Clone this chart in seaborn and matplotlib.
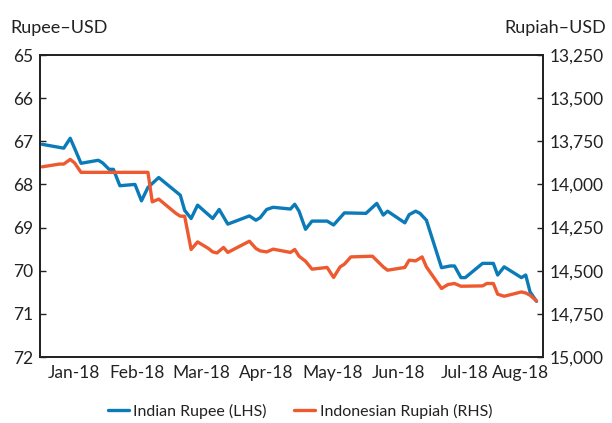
import pandas as pd
import numpy as np
import matplotlib
matplotlib.use("Agg")
import matplotlib.pyplot as plt
import matplotlib.dates as mdates
from matplotlib.ticker import FuncFormatter, FixedLocator
import seaborn as sns

# Indian rupee per USD (left axis, inverted)
rupee_dates = ["2018-01-02", "2018-01-12", "2018-01-15", "2018-01-17", "2018-01-20",
               "2018-01-28", "2018-01-30", "2018-02-02", "2018-02-04", "2018-02-07",
               "2018-02-14", "2018-02-17", "2018-02-20", "2018-02-25", "2018-03-07",
               "2018-03-09", "2018-03-12", "2018-03-15", "2018-03-22", "2018-03-25",
               "2018-03-29", "2018-04-08", "2018-04-11", "2018-04-13", "2018-04-16",
               "2018-04-19", "2018-04-27", "2018-04-29", "2018-05-01", "2018-05-04",
               "2018-05-07", "2018-05-14", "2018-05-17", "2018-05-22", "2018-06-01",
               "2018-06-06", "2018-06-09", "2018-06-11", "2018-06-19", "2018-06-21",
               "2018-06-24", "2018-06-26", "2018-06-29", "2018-07-06", "2018-07-10",
               "2018-07-12", "2018-07-15", "2018-07-17", "2018-07-25", "2018-07-30",
               "2018-08-01", "2018-08-04", "2018-08-12", "2018-08-14", "2018-08-16",
               "2018-08-19"]
rupee_values = [67.07, 67.16, 66.93, 67.16, 67.51,
                67.44, 67.50, 67.65, 67.65, 68.03,
                68.00, 68.38, 68.07, 67.84, 68.25,
                68.60, 68.79, 68.48, 68.79, 68.58,
                68.92, 68.73, 68.83, 68.77, 68.58,
                68.53, 68.57, 68.46, 68.62, 69.04,
                68.85, 68.85, 68.94, 68.66, 68.67,
                68.44, 68.71, 68.62, 68.89, 68.70,
                68.62, 68.67, 68.83, 69.93, 69.89,
                69.89, 70.16, 70.16, 69.83, 69.83,
                70.10, 69.91, 70.16, 70.10, 70.49,
                70.71]

# Indonesian rupiah per USD (right axis, inverted)
rupiah_dates = ["2018-01-02", "2018-01-10", "2018-01-12", "2018-01-15", "2018-01-17",
                "2018-01-20", "2018-02-20", "2018-02-22", "2018-02-25", "2018-03-05",
                "2018-03-07", "2018-03-09", "2018-03-12", "2018-03-15", "2018-03-20",
                "2018-03-22", "2018-03-24", "2018-03-27", "2018-03-29", "2018-04-08",
                "2018-04-11", "2018-04-13", "2018-04-16", "2018-04-19", "2018-04-27",
                "2018-04-29", "2018-05-01", "2018-05-04", "2018-05-07", "2018-05-14",
                "2018-05-17", "2018-05-20", "2018-05-22", "2018-05-25", "2018-06-04",
                "2018-06-09", "2018-06-11", "2018-06-19", "2018-06-21", "2018-06-24",
                "2018-06-27", "2018-06-29", "2018-07-06", "2018-07-09", "2018-07-12",
                "2018-07-15", "2018-07-25", "2018-07-27", "2018-07-30", "2018-08-01",
                "2018-08-04", "2018-08-12", "2018-08-14", "2018-08-16", "2018-08-19"]
rupiah_values = [13898, 13882, 13882, 13855, 13875,
                 13930, 13930, 14101, 14085, 14168,
                 14184, 14184, 14377, 14333, 14371,
                 14391, 14397, 14365, 14394, 14329,
                 14371, 14385, 14391, 14375, 14394,
                 14377, 14416, 14445, 14491, 14481,
                 14539, 14478, 14462, 14420, 14416,
                 14478, 14497, 14481, 14439, 14443,
                 14420, 14478, 14603, 14580, 14574,
                 14590, 14588, 14574, 14574, 14636,
                 14648, 14623, 14629, 14642, 14675]

months = ["Jan-18", "Feb-18", "Mar-18", "Apr-18", "May-18", "Jun-18", "Jul-18", "Aug-18"]
left_ticks = [65, 66, 67, 68, 69, 70, 71, 72]
right_ticks = [13250, 13500, 13750, 14000, 14250, 14500, 14750, 15000]

blue = "#0A7BB8"
red = "#EE5A30"

rupee = pd.DataFrame({"date": pd.to_datetime(rupee_dates), "value": rupee_values})
rupiah = pd.DataFrame({"date": pd.to_datetime(rupiah_dates), "value": rupiah_values})

sns.set_style("white")
plt.rcParams["font.family"] = ["Lato", "DejaVu Sans"]

fig = plt.figure(figsize=(6.12, 4.23), dpi=100)
ax = fig.add_axes([40 / 612, 1 - 357 / 423, 503 / 612, 302 / 423])
ax2 = ax.twinx()

sns.lineplot(data=rupee, x="date", y="value", ax=ax, color=blue, linewidth=2.4,
             label="Indian Rupee (LHS)", legend=False)
sns.lineplot(data=rupiah, x="date", y="value", ax=ax2, color=red, linewidth=2.4,
             label="Indonesian Rupiah (RHS)", legend=False)

x_start = pd.Timestamp("2018-01-01")
x_end = pd.Timestamp("2018-08-22")
ax.set_xlim(x_start, x_end)
ax.set_ylim(72, 65)
ax2.set_ylim(15000, 13250)
ax.set_yticks(left_ticks)
ax2.set_yticks(right_ticks)
ax2.yaxis.set_major_formatter(FuncFormatter(lambda v, p: f"{int(v):,}"))

# ticks at month starts, labels centred in each month span
month_starts = mdates.date2num(pd.date_range("2018-01-01", periods=8, freq="MS"))
edges = np.append(month_starts, mdates.date2num(x_end))
label_pos = (edges[:-1] + edges[1:]) / 2
ax.xaxis.set_major_locator(FixedLocator(month_starts[1:]))
ax.xaxis.set_major_formatter(FuncFormatter(lambda v, p: ""))
ax.set_xticks(label_pos, minor=True)
ax.set_xticklabels(months, minor=True)

for a in (ax, ax2):
    a.set_xlabel("")
    a.set_ylabel("")
    for s in a.spines.values():
        s.set_color("#222222")
        s.set_linewidth(1.3)

ax.tick_params(axis="x", which="major", direction="in", length=4, width=1, color="#222222")
ax.tick_params(axis="x", which="minor", length=0, labelsize=12.5, pad=6, labelcolor="#222222")
ax.tick_params(axis="y", direction="in", length=4, width=1, labelsize=12.5,
               color="#222222", labelcolor="#222222", left=True, pad=5)
ax2.tick_params(axis="y", direction="in", length=4, width=1, labelsize=12.5,
                color="#222222", labelcolor="#222222", right=True, pad=5)

fig.text(10 / 612, 1 - 33 / 423, "Rupee\u2013USD", fontsize=13, color="#222222",
         ha="left", va="baseline")
fig.text(606 / 612, 1 - 33 / 423, "Rupiah\u2013USD", fontsize=13, color="#222222",
         ha="right", va="baseline")

h1, l1 = ax.get_legend_handles_labels()
h2, l2 = ax2.get_legend_handles_labels()
fig.legend(h1 + h2, l1 + l2, loc="center", bbox_to_anchor=(300 / 612, 1 - 411 / 423),
           ncol=2, frameon=False, fontsize=11.5, handlelength=1.3, columnspacing=1.7,
           handletextpad=0.3, labelcolor="#222222")

fig.savefig("out.png", dpi=100)
